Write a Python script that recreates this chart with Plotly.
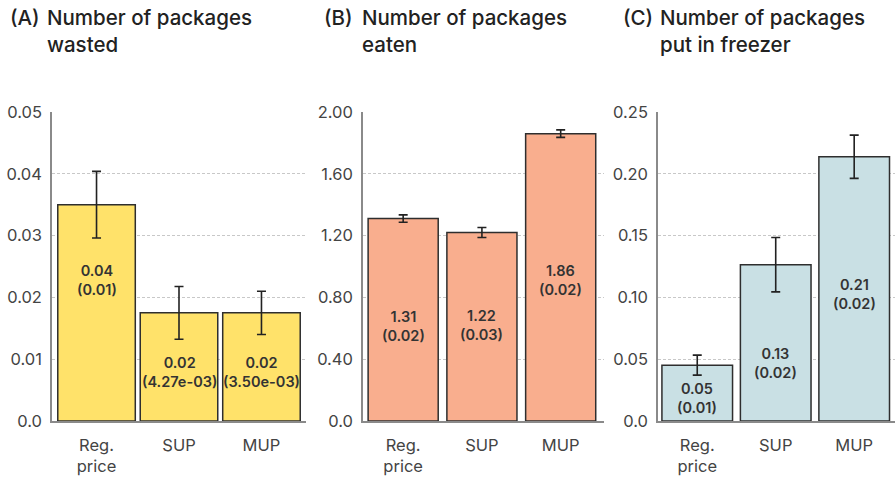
import plotly.graph_objects as go

# --- data -------------------------------------------------------------
categories = ["Reg.<br>price", "SUP", "MUP"]

wasted_mean = [0.035, 0.0175, 0.0175]
wasted_se = [0.0054, 0.00427, 0.0035]

eaten_mean = [1.31, 1.22, 1.86]
eaten_se = [0.024, 0.032, 0.024]

freezer_mean = [0.0452, 0.1265, 0.2138]
freezer_se = [0.0081, 0.022, 0.0175]

panel_titles = [
    ("(A)", "Number of packages<br>wasted"),
    ("(B)", "Number of packages<br>eaten"),
    ("(C)", "Number of packages<br>put in freezer"),
]

wasted_ticks = [0, 0.01, 0.02, 0.03, 0.04, 0.05]
wasted_ticktext = ["0.0", "0.01", "0.02", "0.03", "0.04", "0.05"]
eaten_ticks = [0, 0.4, 0.8, 1.2, 1.6, 2.0]
eaten_ticktext = ["0.0", "0.40", "0.80", "1.20", "1.60", "2.00"]
freezer_ticks = [0, 0.05, 0.10, 0.15, 0.20, 0.25]
freezer_ticktext = ["0.0", "0.05", "0.10", "0.15", "0.20", "0.25"]

# --- styling ------------------------------------------------------------
FONT = "Inter, 'Noto Sans', sans-serif"
TEXT = "#333333"
TICK = "#444444"
AXIS = "#8a8a8a"
GRID = "#c8c8c8"

panels = [
    dict(mean=wasted_mean, se=wasted_se, color="#FFE26A", ymax=0.05,
         ticks=wasted_ticks, ticktext=wasted_ticktext,
         domain=[52 / 895, 306 / 895], xrange=[-0.54, 2.54], gap=0.06,
         label_frac=[0.65, 0.45, 0.45], title_x=(8, 45)),
    dict(mean=eaten_mean, se=eaten_se, color="#F9AE8E", ymax=2.0,
         ticks=eaten_ticks, ticktext=eaten_ticktext,
         domain=[363 / 895, 604 / 895], xrange=[-0.51, 2.55], gap=0.11,
         label_frac=[0.47, 0.51, 0.49], title_x=(322, 360)),
    dict(mean=freezer_mean, se=freezer_se, color="#C9E0E4", ymax=0.25,
         ticks=freezer_ticks, ticktext=freezer_ticktext,
         domain=[658 / 895, 1.0], xrange=[-0.5, 2.52], gap=0.10,
         label_frac=[0.41, 0.37, 0.48], title_x=(621, 658)),
]

Y_DOMAIN = [(478 - 421) / 478, (478 - 112) / 478]


def fmt_se(v):
    return f"{v:.2e}" if v < 0.005 else f"{v:.2f}"


fig = go.Figure()
annotations = []

for i, p in enumerate(panels, start=1):
    xa = "x" if i == 1 else f"x{i}"
    ya = "y" if i == 1 else f"y{i}"
    fig.add_trace(go.Bar(
        x=categories, y=p["mean"],
        xaxis=xa, yaxis=ya,
        width=1 - p["gap"],
        marker=dict(color=p["color"], line=dict(color="#2e2e2e", width=1.5)),
        error_y=dict(type="data", array=p["se"], visible=True,
                     color="#222222", thickness=1.6, width=4.5),
        showlegend=False, hoverinfo="skip",
    ))
    for cat, m, s, f in zip(categories, p["mean"], p["se"], p["label_frac"]):
        annotations.append(dict(
            x=cat, y=m * f, xref=xa, yref=ya, showarrow=False,
            text=f"{m:.2f}<br>({fmt_se(s)})",
            font=dict(family=FONT, size=14.5, color=TEXT, weight=600),
            xanchor="center", yanchor="middle",
        ))
    tag, title = panel_titles[i - 1]
    tx0, tx1 = p["title_x"]
    for x0, txt in ((tx0, tag), (tx1, title)):
        annotations.append(dict(
            x=x0 / 895, y=1, yshift=-3, xref="paper", yref="paper",
            text=txt, showarrow=False, xanchor="left", yanchor="top",
            align="left",
            font=dict(family=FONT, size=20.5, color="#222222", weight=500),
        ))

    xkey = "xaxis" if i == 1 else f"xaxis{i}"
    ykey = "yaxis" if i == 1 else f"yaxis{i}"
    fig.update_layout(**{
        xkey: dict(domain=p["domain"], anchor=ya, range=p["xrange"],
                   showline=True, linecolor=AXIS, linewidth=1.5,
                   showgrid=False, ticks="", fixedrange=True, automargin=False,
                   ticklabelstandoff=8,
                   tickfont=dict(family=FONT, size=16.5, color=TICK)),
        ykey: dict(domain=Y_DOMAIN, anchor=xa, range=[0, p["ymax"]],
                   tickvals=p["ticks"], ticktext=p["ticktext"],
                   showline=True, linecolor=AXIS, linewidth=1.5,
                   showgrid=True, gridcolor=GRID, griddash="3px,2px", gridwidth=1,
                   zeroline=False, ticks="", ticklabelstandoff=5,
                   automargin=False, fixedrange=True,
                   tickfont=dict(family=FONT, size=16.5, color=TICK)),
    })

fig.update_layout(
    width=895, height=478,
    margin=dict(l=0, r=0, t=0, b=0),
    paper_bgcolor="white", plot_bgcolor="white",
    annotations=annotations,
)

fig.write_html("out.html")
